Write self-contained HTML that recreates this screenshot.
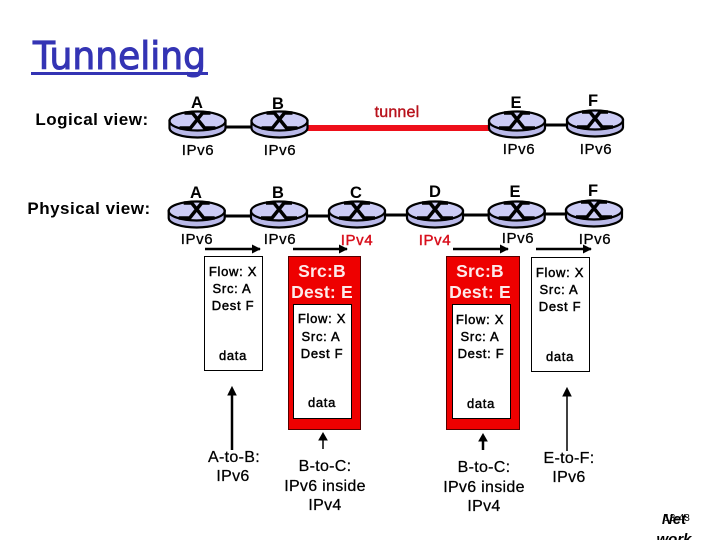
<!DOCTYPE html>
<html><head><meta charset="utf-8"><style>
html,body{margin:0;padding:0;background:#fff}
svg{display:block}
text{font-family:"Liberation Sans",sans-serif;text-anchor:middle;fill:#000}
.lb{font-size:16.500px;font-weight:bold}
.ip{font-size:15px;letter-spacing:.6px;stroke:#000;stroke-width:.3}
.red{fill:#d80f1c;stroke:#d80f1c;stroke-width:.4}
.fl{font-size:13px;letter-spacing:.7px;stroke:#000;stroke-width:.45}
.ph{font-size:17.500px;font-weight:bold;fill:#fdeaea;letter-spacing:.2px}
.cap{font-size:16px;letter-spacing:.3px;stroke:#000;stroke-width:.25}
</style></head><body>
<svg width="720" height="540" viewBox="0 0 720 540" xmlns="http://www.w3.org/2000/svg">
<defs>
<marker id="ah" viewBox="0 0 10 10" refX="9" refY="5" markerWidth="9" markerHeight="9" markerUnits="userSpaceOnUse" orient="auto"><path d="M0 0L10 5L0 10z" fill="#000"/></marker>
<g id="r">
<path d="M-28 0V7A28 9.500 0 0 0 28 7V0z" fill="#b9b9e8" stroke="#000" stroke-width="2.200"/>
<ellipse cx="0" cy="0" rx="28" ry="9.500" fill="#ccccf5" stroke="#000" stroke-width="2.200"/>
<path d="M-13 -8H-5L7 7H18M13 -8H5L-7 7H-18" fill="none" stroke="#000" stroke-width="3.500"/>
</g>
</defs>
<text x="33" y="69" style="font-family:'DejaVu Sans',sans-serif;font-size:38px;fill:#3434b4;stroke:#3434b4;stroke-width:1;text-anchor:start" textLength="173" lengthAdjust="spacingAndGlyphs">Tunneling</text>
<rect x="31" y="72" width="177" height="3" fill="#3434b4"/>

<text x="92" y="125" style="font-size:17px;font-weight:bold;letter-spacing:.5px">Logical view:</text>
<text x="89" y="214" style="font-size:17px;font-weight:bold;letter-spacing:.5px">Physical view:</text>

<path d="M226 127H252" stroke="#000" stroke-width="3"/>
<path d="M305 128H490" stroke="#ee0f1a" stroke-width="6"/>
<path d="M544 125H570" stroke="#000" stroke-width="3"/>
<path d="M225 216H252M306 216H331M384 215H408M462 215H490M544 214H568" stroke="#000" stroke-width="3"/>

<use href="#r" x="197.500" y="121"/><use href="#r" x="279.500" y="121"/><use href="#r" x="517" y="121"/><use href="#r" x="595" y="120"/>
<use href="#r" x="196.700" y="211"/><use href="#r" x="279" y="211"/><use href="#r" x="357" y="211"/><use href="#r" x="435" y="211"/><use href="#r" x="516.700" y="211"/><use href="#r" x="594" y="210"/>

<text class="lb" x="197" y="108">A</text><text class="lb" x="278" y="109">B</text><text class="lb" x="516" y="108">E</text><text class="lb" x="593" y="106">F</text>
<text class="lb" x="196" y="198">A</text><text class="lb" x="278" y="198">B</text><text class="lb" x="356" y="198">C</text><text class="lb" x="435" y="197">D</text><text class="lb" x="515" y="197">E</text><text class="lb" x="593" y="196">F</text>
<text x="397" y="117" style="font-size:16px;fill:#b8121c;stroke:#b8121c;stroke-width:.4;letter-spacing:.2px">tunnel</text>

<text class="ip" x="198" y="155">IPv6</text><text class="ip" x="280" y="155">IPv6</text><text class="ip" x="519" y="154">IPv6</text><text class="ip" x="596" y="154">IPv6</text>
<text class="ip" x="197" y="244">IPv6</text><text class="ip" x="280" y="244">IPv6</text><text class="ip red" x="357" y="245">IPv4</text><text class="ip red" x="435" y="245">IPv4</text><text class="ip" x="518" y="243">IPv6</text><text class="ip" x="595" y="244">IPv6</text>

<g stroke="#000" stroke-width="2.500" fill="none">
<path d="M205 249H260" marker-end="url(#ah)"/><path d="M293 249H347" marker-end="url(#ah)"/><path d="M453 249H508" marker-end="url(#ah)"/><path d="M536 249H591" marker-end="url(#ah)"/>
</g>

<rect x="204.500" y="256.500" width="58" height="114" fill="#fff" stroke="#000"/>
<rect x="288.500" y="256.500" width="72" height="173" fill="#ee0000" stroke="#500"/>
<rect x="293.500" y="304.500" width="58" height="114" fill="#fff" stroke="#000"/>
<rect x="446.500" y="256.500" width="73" height="173" fill="#ee0000" stroke="#500"/>
<rect x="452.500" y="304.500" width="58" height="114" fill="#fff" stroke="#000"/>
<rect x="531.500" y="257.500" width="58" height="114" fill="#fff" stroke="#000"/>

<text class="fl" x="233" y="276">Flow: X</text><text class="fl" x="232" y="293">Src: A</text><text class="fl" x="233" y="310">Dest F</text><text class="fl" x="233" y="360">data</text>
<text class="ph" x="322" y="277">Src:B</text><text class="ph" x="322" y="298">Dest: E</text>
<text class="fl" x="322" y="323">Flow: X</text><text class="fl" x="321" y="341">Src: A</text><text class="fl" x="322" y="358">Dest F</text><text class="fl" x="322" y="407">data</text>
<text class="ph" x="480" y="277">Src:B</text><text class="ph" x="480" y="298">Dest: E</text>
<text class="fl" x="480" y="324">Flow: X</text><text class="fl" x="480" y="341">Src: A</text><text class="fl" x="481" y="358">Dest: F</text><text class="fl" x="481" y="408">data</text>
<text class="fl" x="560" y="277">Flow: X</text><text class="fl" x="559" y="294">Src: A</text><text class="fl" x="560" y="311">Dest F</text><text class="fl" x="560" y="361">data</text>

<path d="M232 450V391" stroke="#000" stroke-width="2.500"/><path d="M232 387l-4 8h8z" fill="#000" stroke="#000"/>
<path d="M323 449V437" stroke="#000" stroke-width="1.500"/><path d="M323 433l-4 7h8z" fill="#000" stroke="#000"/>
<path d="M483 450V438" stroke="#000" stroke-width="2.500"/><path d="M483 434l-4 7h8z" fill="#000" stroke="#000"/>
<path d="M567 451V392" stroke="#000" stroke-width="1.500"/><path d="M567 388l-4 8h8z" fill="#000" stroke="#000"/>

<text class="cap" x="234" y="462">A-to-B:</text><text class="cap" x="233" y="481">IPv6</text>
<text class="cap" x="325" y="471">B-to-C:</text><text class="cap" x="325" y="491">IPv6 inside</text><text class="cap" x="325" y="510">IPv4</text>
<text class="cap" x="484" y="472">B-to-C:</text><text class="cap" x="484" y="492">IPv6 inside</text><text class="cap" x="484" y="511">IPv4</text>
<text class="cap" x="569" y="463">E-to-F:</text><text class="cap" x="569" y="482">IPv6</text>

<text x="674" y="524" style="font-size:15px;font-style:italic;font-weight:bold">Net</text>
<text x="677" y="521" style="font-size:10px">13-43</text>
<text x="674" y="544" style="font-size:15px;font-style:italic;font-weight:bold">work</text>
</svg>
</body></html>
